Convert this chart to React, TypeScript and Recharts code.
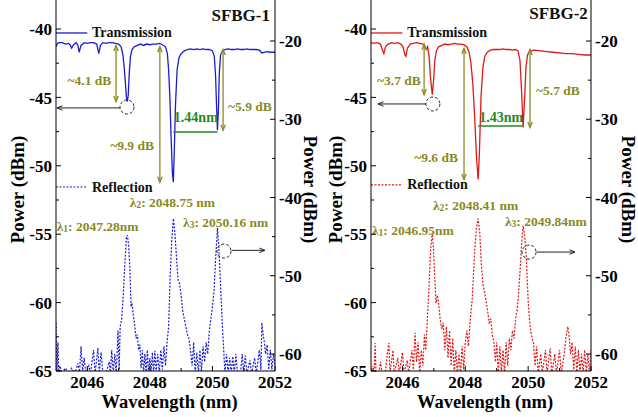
import React from "react";
import { LineChart, Line, XAxis, YAxis, ReferenceLine, ReferenceDot } from "recharts";

const FONT = "'Liberation Serif', 'Times New Roman', serif";
const OLIVE = "#8a8a24";
const GREEN = "#1f8a1f";
const INK = "#222";

const X_DOMAIN: [number, number] = [2045, 2052];
const LEFT_DOMAIN: [number, number] = [-65, -37.88];
const RIGHT_DOMAIN: [number, number] = [-62.17, -14.76];

const xTicks = [2046, 2047, 2048, 2049, 2050, 2051, 2052];
const leftTicks = [-65, -62.5, -60, -57.5, -55, -52.5, -50, -47.5, -45, -42.5, -40];
const rightTicks = [-60, -55, -50, -45, -40, -35, -30, -25, -20];

// SFBG-1 transmission, [wavelength nm, power dBm] (left axis)
const trans1: [number, number][] = [
  [2045.0, -41.3], [2045.05, -41.05], [2045.1, -41.0], [2045.2, -41.0], [2045.3, -41.1],
  [2045.4, -41.05], [2045.46, -41.2], [2045.5, -41.4], [2045.56, -41.15], [2045.65, -41.0],
  [2045.7, -41.2], [2045.74, -41.7], [2045.8, -41.2], [2045.9, -41.0], [2046.0, -41.05],
  [2046.1, -41.0], [2046.2, -41.0], [2046.3, -41.1], [2046.34, -41.5], [2046.37, -41.8],
  [2046.42, -41.2], [2046.5, -41.0], [2046.6, -41.05], [2046.7, -41.0], [2046.8, -41.0],
  [2046.9, -41.05], [2047.0, -41.1], [2047.08, -41.3], [2047.14, -41.9], [2047.18, -42.8],
  [2047.22, -44.0], [2047.25, -45.0], [2047.28, -45.3], [2047.31, -44.8], [2047.34, -43.3],
  [2047.38, -42.0], [2047.43, -41.5], [2047.5, -41.3], [2047.6, -41.2], [2047.7, -41.1],
  [2047.8, -41.2], [2047.9, -41.1], [2048.0, -41.15], [2048.1, -41.1], [2048.2, -41.1],
  [2048.3, -41.05], [2048.4, -41.15], [2048.5, -41.3], [2048.56, -41.8], [2048.6, -43.0],
  [2048.64, -45.0], [2048.68, -48.0], [2048.72, -50.5], [2048.75, -51.2], [2048.78, -49.0],
  [2048.82, -45.5], [2048.87, -43.0], [2048.93, -42.1], [2049.0, -41.8], [2049.1, -41.6],
  [2049.2, -41.5], [2049.3, -41.45], [2049.4, -41.5], [2049.5, -41.45], [2049.6, -41.5],
  [2049.7, -41.45], [2049.8, -41.5], [2049.9, -41.5], [2050.0, -41.6], [2050.06, -42.0],
  [2050.1, -43.4], [2050.13, -45.5], [2050.16, -47.4], [2050.19, -46.0], [2050.22, -43.2],
  [2050.26, -41.9], [2050.32, -41.6], [2050.4, -41.5], [2050.5, -41.45], [2050.6, -41.5],
  [2050.7, -41.5], [2050.8, -41.45], [2050.9, -41.5], [2051.0, -41.5], [2051.1, -41.45],
  [2051.2, -41.5], [2051.3, -41.5], [2051.4, -41.5], [2051.5, -41.55], [2051.58, -41.75],
  [2051.65, -41.7], [2051.75, -41.65], [2051.85, -41.7], [2052.0, -41.7],
];

// SFBG-1 reflection (right axis)
const refl1: [number, number][] = [
  [2045.0, -56.0], [2045.03, -62.5], [2045.06, -58.5], [2045.09, -62.5], [2045.12, -61.5],
  [2045.2, -62.5], [2045.3, -61.8], [2045.4, -62.5], [2045.5, -61.8], [2045.6, -62.5],
  [2045.7, -61.2], [2045.75, -62.5], [2045.8, -59.0], [2045.85, -62.3], [2045.9, -60.5],
  [2045.95, -62.5], [2046.05, -61.5], [2046.1, -62.5], [2046.2, -59.5], [2046.25, -62.5],
  [2046.34, -59.2], [2046.38, -62.4], [2046.44, -59.8], [2046.5, -62.5], [2046.6, -62.5],
  [2046.7, -61.0], [2046.74, -62.5], [2046.78, -59.5], [2046.83, -62.3], [2046.88, -60.0],
  [2046.92, -62.5], [2046.95, -60.5], [2046.98, -57.0], [2047.02, -62.0], [2047.05, -56.5],
  [2047.1, -55.5], [2047.15, -52.5], [2047.2, -48.5], [2047.25, -45.2], [2047.28, -44.8],
  [2047.32, -46.0], [2047.36, -49.0], [2047.4, -54.0], [2047.43, -53.5], [2047.47, -55.0],
  [2047.52, -56.5], [2047.56, -58.0], [2047.6, -57.5], [2047.64, -59.5], [2047.68, -58.8],
  [2047.72, -61.8], [2047.76, -59.5], [2047.8, -62.5], [2047.84, -60.0], [2047.88, -62.5],
  [2047.92, -59.5], [2047.96, -62.5], [2048.0, -60.5], [2048.04, -62.5], [2048.08, -59.8],
  [2048.12, -62.5], [2048.16, -59.6], [2048.2, -62.3], [2048.25, -60.0], [2048.3, -62.5],
  [2048.35, -59.5], [2048.4, -62.0], [2048.45, -59.0], [2048.5, -61.5], [2048.55, -58.5],
  [2048.6, -56.5], [2048.65, -50.0], [2048.7, -45.5], [2048.75, -42.7], [2048.8, -44.5],
  [2048.85, -47.5], [2048.9, -50.5], [2048.95, -51.0], [2049.0, -52.5], [2049.05, -54.5],
  [2049.1, -55.5], [2049.15, -56.5], [2049.2, -57.5], [2049.25, -58.0], [2049.3, -59.5],
  [2049.35, -61.5], [2049.4, -58.5], [2049.45, -62.5], [2049.5, -59.8], [2049.55, -62.5],
  [2049.6, -59.5], [2049.65, -62.3], [2049.7, -59.0], [2049.75, -61.0], [2049.8, -58.5],
  [2049.85, -60.0], [2049.9, -57.0], [2049.95, -55.5], [2050.0, -54.0], [2050.05, -52.0],
  [2050.1, -48.0], [2050.16, -43.9], [2050.2, -46.0], [2050.24, -49.5], [2050.28, -53.0],
  [2050.32, -56.5], [2050.36, -59.5], [2050.4, -62.5], [2050.45, -60.0], [2050.5, -62.5],
  [2050.55, -60.5], [2050.6, -62.5], [2050.65, -60.3], [2050.7, -62.5], [2050.75, -60.0],
  [2050.8, -62.5], [2050.9, -62.5], [2050.95, -60.0], [2051.0, -62.5], [2051.05, -60.2],
  [2051.1, -62.5], [2051.2, -60.8], [2051.25, -62.5], [2051.35, -60.5], [2051.4, -62.5],
  [2051.5, -59.5], [2051.55, -62.0], [2051.58, -56.0], [2051.62, -57.5], [2051.66, -58.5],
  [2051.7, -60.0], [2051.75, -58.8], [2051.8, -62.0], [2051.85, -59.5], [2051.9, -62.0],
  [2051.95, -60.0], [2052.0, -61.5],
];

const peaks1 = [2047.28, 2048.75, 2050.16];
const peakUnits1 = ["nm", " nm", " nm"];
const dips1 = [-45.3, -51.2, -47.4];
const depths1 = [4.1, 9.9, 5.9];
const spacing1 = 1.44;

// SFBG-2 transmission (left axis)
const trans2: [number, number][] = [
  [2045.0, -41.0], [2045.1, -41.05], [2045.2, -41.0], [2045.3, -41.1], [2045.36, -41.5],
  [2045.41, -41.8], [2045.46, -41.3], [2045.55, -41.1], [2045.65, -41.0], [2045.75, -41.05],
  [2045.85, -41.0], [2045.95, -41.1], [2046.02, -41.3], [2046.08, -41.9], [2046.11, -42.0],
  [2046.16, -41.4], [2046.25, -41.1], [2046.35, -41.05], [2046.45, -41.0], [2046.55, -41.05],
  [2046.65, -41.1], [2046.72, -41.3], [2046.76, -41.5], [2046.8, -41.3], [2046.85, -42.0],
  [2046.89, -43.5], [2046.95, -44.8], [2046.99, -43.8], [2047.03, -42.3], [2047.08, -41.6],
  [2047.15, -41.3], [2047.25, -41.2], [2047.35, -41.1], [2047.45, -41.15], [2047.55, -41.1],
  [2047.65, -41.05], [2047.75, -41.1], [2047.85, -41.1], [2047.95, -41.15], [2048.05, -41.3],
  [2048.12, -41.7], [2048.18, -42.5], [2048.24, -44.0], [2048.3, -46.5], [2048.36, -49.5],
  [2048.41, -51.0], [2048.45, -49.0], [2048.5, -45.0], [2048.56, -42.8], [2048.62, -42.0],
  [2048.7, -41.7], [2048.8, -41.55], [2048.9, -41.5], [2049.0, -41.5], [2049.1, -41.5],
  [2049.2, -41.45], [2049.3, -41.5], [2049.4, -41.5], [2049.5, -41.55], [2049.6, -41.5],
  [2049.68, -41.6], [2049.74, -42.3], [2049.79, -44.5], [2049.84, -47.2], [2049.89, -45.0],
  [2049.93, -42.8], [2049.98, -41.9], [2050.05, -41.6], [2050.2, -41.55], [2050.4, -41.6],
  [2050.6, -41.65], [2050.8, -41.7], [2051.0, -41.75], [2051.2, -41.8], [2051.4, -41.8],
  [2051.6, -41.85], [2051.8, -41.9], [2052.0, -41.9],
];

// SFBG-2 reflection (right axis)
const refl2: [number, number][] = [
  [2045.0, -62.5], [2045.05, -61.5], [2045.1, -62.5], [2045.13, -58.6], [2045.16, -62.5],
  [2045.25, -62.5], [2045.3, -61.0], [2045.35, -62.5], [2045.45, -62.5], [2045.52, -60.0],
  [2045.57, -58.6], [2045.6, -62.5], [2045.7, -59.5], [2045.74, -62.5], [2045.85, -60.5],
  [2045.9, -62.5], [2046.0, -59.8], [2046.05, -62.5], [2046.15, -60.8], [2046.2, -62.5],
  [2046.3, -59.5], [2046.35, -62.0], [2046.4, -57.3], [2046.45, -61.0], [2046.5, -58.5],
  [2046.55, -62.5], [2046.6, -59.5], [2046.65, -61.5], [2046.7, -57.5], [2046.74, -59.5],
  [2046.8, -55.0], [2046.85, -51.0], [2046.9, -46.5], [2046.95, -44.5], [2046.98, -46.0],
  [2047.02, -49.5], [2047.07, -53.5], [2047.11, -52.5], [2047.15, -53.5], [2047.2, -55.5],
  [2047.25, -56.8], [2047.3, -56.0], [2047.35, -59.5], [2047.4, -56.5], [2047.45, -60.5],
  [2047.5, -57.0], [2047.55, -61.5], [2047.6, -58.0], [2047.65, -62.5], [2047.7, -59.5],
  [2047.75, -62.5], [2047.8, -60.0], [2047.85, -62.5], [2047.9, -59.0], [2047.95, -62.0],
  [2048.0, -58.5], [2048.05, -57.0], [2048.1, -59.0], [2048.15, -56.0], [2048.22, -53.0],
  [2048.3, -46.7], [2048.36, -43.8], [2048.41, -42.7], [2048.46, -44.5], [2048.51, -48.5],
  [2048.56, -51.0], [2048.61, -52.0], [2048.66, -53.2], [2048.71, -54.5], [2048.76, -56.0],
  [2048.81, -55.5], [2048.86, -57.5], [2048.91, -58.5], [2048.96, -61.0], [2049.0, -58.5],
  [2049.05, -62.5], [2049.1, -59.0], [2049.15, -62.5], [2049.2, -59.5], [2049.25, -62.5],
  [2049.3, -58.5], [2049.35, -61.5], [2049.4, -58.0], [2049.45, -59.5], [2049.5, -57.0],
  [2049.55, -58.0], [2049.6, -55.5], [2049.65, -54.4], [2049.7, -52.0], [2049.75, -48.9],
  [2049.8, -45.5], [2049.84, -43.6], [2049.89, -45.0], [2049.94, -47.6], [2049.97, -50.5],
  [2050.0, -53.1], [2050.04, -55.5], [2050.08, -57.0], [2050.13, -58.0], [2050.17, -58.6],
  [2050.22, -61.5], [2050.27, -59.0], [2050.32, -62.5], [2050.4, -60.0], [2050.45, -62.5],
  [2050.55, -59.5], [2050.6, -62.5], [2050.7, -59.3], [2050.75, -62.5], [2050.85, -60.0],
  [2050.9, -62.5], [2051.0, -59.5], [2051.05, -62.5], [2051.15, -60.0], [2051.2, -58.0],
  [2051.26, -56.5], [2051.3, -57.5], [2051.35, -60.0], [2051.4, -58.5], [2051.45, -62.0],
  [2051.5, -59.0], [2051.55, -62.5], [2051.6, -59.5], [2051.65, -62.5], [2051.7, -60.0],
  [2051.75, -62.5], [2051.8, -59.5], [2051.85, -62.5], [2051.9, -60.0], [2051.95, -62.5],
  [2052.0, -59.5],
];

const peaks2 = [2046.95, 2048.41, 2049.84];
const peakUnits2 = ["nm", " nm", "nm"];
const dips2 = [-44.8, -51.0, -47.2];
const depths2 = [3.7, 9.6, 5.7];
const spacing2 = 1.43;

type Pt = [number, number];

interface PanelCfg {
  left: number;
  width: number;
  leftW: number;
  rightW: number;
  color: string;
  title: string;
  trans: Pt[];
  refl: Pt[];
  peaks: number[];
  units: string[];
  dips: number[];
  depths: number[];
  spacing: number;
  // annotation placement, in axis units
  titleAt: Pt;
  legendY: [number, number];
  depthX: number[];
  depthText: Pt[];
  spacingY: number;
  spacingText: Pt;
  lambdaText: Pt[];
  transCircle: Pt;
  transArrow: [number, number, number];
  reflCircle: Pt;
  reflArrow: [number, number, number];
  leftTitleDx: number;
  rightTitleDx: number;
}

const panels: PanelCfg[] = [
  {
    left: 0, width: 320, leftW: 56, rightW: 45, color: "#1c1cd0", title: "SFBG-1",
    trans: trans1, refl: refl1, peaks: peaks1, units: peakUnits1, dips: dips1, depths: depths1, spacing: spacing1,
    titleAt: [2051.84, -38.98], legendY: [-40.29, -51.55],
    depthX: [2046.92, 2048.32, 2050.34],
    depthText: [[2046.07, -43.8], [2047.43, -48.55], [2051.2, -45.7]],
    spacingY: -47.53, spacingText: [2049.47, -46.45],
    lambdaText: [[2045.02, -54.4], [2047.36, -52.62], [2049.06, -54.1]],
    transCircle: [2047.27, -45.7], transArrow: [2047.05, 2045.03, -45.77],
    reflCircle: [2050.37, -46.84], reflArrow: [2050.62, 2051.68, -46.75],
    leftTitleDx: 17, rightTitleDx: 35,
  },
  {
    left: 320, width: 318, leftW: 51, rightW: 47, color: "#e01818", title: "SFBG-2",
    trans: trans2, refl: refl2, peaks: peaks2, units: peakUnits2, dips: dips2, depths: depths2, spacing: spacing2,
    titleAt: [2051.9, -38.9], legendY: [-40.29, -51.4],
    depthX: [2046.69, 2047.96, 2050.06],
    depthText: [[2045.89, -43.73], [2047.07, -49.36], [2050.95, -44.53]],
    spacingY: -47.09, spacingText: [2049.14, -46.45],
    lambdaText: [[2045.03, -54.7], [2046.97, -52.85], [2049.26, -54.02]],
    transCircle: [2046.97, -45.48], transArrow: [2046.76, 2045.22, -45.48],
    reflCircle: [2050.03, -46.97], reflArrow: [2050.28, 2051.49, -46.97],
    leftTitleDx: 15, rightTitleDx: 37,
  },
];

const textStyle = { fontFamily: FONT, fontWeight: 700 } as const;

// inward tick marks, labels only on the major ones
const LeftTick = ({ x, y, payload }: any) => {
  const major = payload.value % 5 === 0;
  return (
    <g>
      <line x1={x} x2={x + (major ? 5 : 3)} y1={y} y2={y} stroke="#000" />
      {major && (
        <text x={x - 4} y={y} dy="0.36em" textAnchor="end" fontSize={17} fill="#000" style={textStyle}>
          {payload.value}
        </text>
      )}
    </g>
  );
};

const RightTick = ({ x, y, payload }: any) => {
  const major = payload.value % 10 === 0;
  return (
    <g>
      <line x1={x - (major ? 5 : 3)} x2={x} y1={y} y2={y} stroke="#000" />
      {major && (
        <text x={x + 4} y={y} dy="0.36em" textAnchor="start" fontSize={17} fill="#000" style={textStyle}>
          {payload.value}
        </text>
      )}
    </g>
  );
};

const BottomTick = ({ x, y, payload }: any) => {
  const major = payload.value % 2 === 0;
  return (
    <g>
      <line x1={x} x2={x} y1={y - (major ? 5 : 3)} y2={y} stroke="#000" />
      {major && (
        <text x={x} y={y + 17} textAnchor="middle" fontSize={17} fill="#000" style={textStyle}>
          {payload.value}
        </text>
      )}
    </g>
  );
};

const TopTick = ({ x, y, payload }: any) => {
  const major = payload.value % 2 === 0;
  return <line x1={x} x2={x} y1={y} y2={y + (major ? 5 : 3)} stroke="#000" />;
};

const vTitle = (dx: number, angle: number) => (props: any) => {
  const vb = props.viewBox || {};
  const cx = vb.x + dx;
  const cy = vb.y + vb.height / 2 + 4;
  return (
    <text x={cx} y={cy} textAnchor="middle" dominantBaseline="central" fontSize={19} fill="#000"
      transform={`rotate(${angle} ${cx} ${cy})`} style={textStyle}>
      Power (dBm)
    </text>
  );
};

const xTitle = (props: any) => {
  const vb = props.viewBox || {};
  const cx = vb.x + vb.width / 2 + 4;
  return (
    <text x={cx} y={vb.y + 37} textAnchor="middle" fontSize={18.5} fill="#000" style={textStyle}>
      Wavelength (nm)
    </text>
  );
};

// line with open arrow heads
const arrow = (color: string, start: boolean, end: boolean, sw = 1.2) => (p: any) => {
  const { x1, y1, x2, y2 } = p;
  const a = Math.atan2(y2 - y1, x2 - x1);
  const head = (x: number, y: number, dir: number) => {
    const L = 6;
    const s = 0.38;
    return `M${x - L * Math.cos(dir - s)},${y - L * Math.sin(dir - s)} L${x},${y} L${x - L * Math.cos(dir + s)},${y - L * Math.sin(dir + s)}`;
  };
  return (
    <g>
      <line x1={x1} y1={y1} x2={x2} y2={y2} stroke={color} strokeWidth={sw} />
      {end && <path d={head(x2, y2, a)} fill="none" stroke={color} strokeWidth={sw} />}
      {start && <path d={head(x1, y1, a + Math.PI)} fill="none" stroke={color} strokeWidth={sw} />}
    </g>
  );
};

const label = (content: React.ReactNode, color: string, size: number, anchor = "middle") => (p: any) => (
  <text x={p.cx} y={p.cy} textAnchor={anchor} dominantBaseline="central" fontSize={size} fill={color} style={textStyle}>
    {content}
  </text>
);

const ring = (p: any) => (
  <circle cx={p.cx} cy={p.cy} r={7} fill="none" stroke={INK} strokeWidth={1} strokeDasharray="3 2" />
);

function Panel({ cfg }: { cfg: PanelCfg }) {
  const tData = cfg.trans.map(([w, p]) => ({ w, p }));
  const rData = cfg.refl.map(([w, p]) => ({ w, p }));
  return (
    <div style={{ position: "absolute", left: cfg.left, top: 0 }}>
      <LineChart width={cfg.width} height={417} margin={{ top: 0, right: 0, bottom: 0, left: 0 }}>
        <XAxis dataKey="w" type="number" domain={X_DOMAIN} ticks={xTicks} interval={0} allowDataOverflow
          height={46} axisLine={{ stroke: "#000" }} tickLine={false} tickSize={0} tickMargin={0}
          tick={<BottomTick />} label={{ content: xTitle }} />
        <XAxis xAxisId="top" orientation="top" dataKey="w" type="number" domain={X_DOMAIN} ticks={xTicks}
          interval={0} allowDataOverflow height={0} axisLine={false} tickLine={false} tickSize={0}
          tickMargin={0} tick={<TopTick />} />
        <YAxis yAxisId="left" type="number" domain={LEFT_DOMAIN} ticks={leftTicks} interval={0}
          allowDataOverflow width={cfg.leftW} axisLine={{ stroke: "#000" }} tickLine={false} tickSize={0}
          tickMargin={0} tick={<LeftTick />} label={{ content: vTitle(cfg.leftTitleDx, -90) }} />
        <YAxis yAxisId="right" orientation="right" type="number" domain={RIGHT_DOMAIN} ticks={rightTicks}
          interval={0} allowDataOverflow width={cfg.rightW} axisLine={{ stroke: "#000" }} tickLine={false}
          tickSize={0} tickMargin={0} tick={<RightTick />} label={{ content: vTitle(cfg.rightTitleDx, 90) }} />

        <Line yAxisId="right" data={rData} dataKey="p" type="linear" stroke={cfg.color} strokeWidth={1.2}
          strokeDasharray="2 1.5" dot={false} activeDot={false} isAnimationActive={false} />
        <Line yAxisId="left" data={tData} dataKey="p" type="linear" stroke={cfg.color} strokeWidth={1.3}
          dot={false} activeDot={false} isAnimationActive={false} />

        {/* legend */}
        <ReferenceLine yAxisId="left" segment={[{ x: 2045, y: cfg.legendY[0] }, { x: 2046, y: cfg.legendY[0] }]}
          stroke={cfg.color} strokeWidth={1.3} />
        <ReferenceDot yAxisId="left" x={2046.15} y={cfg.legendY[0]} r={0} shape={label("Transmission", "#111", 14, "start")} />
        <ReferenceLine yAxisId="left" segment={[{ x: 2045, y: cfg.legendY[1] }, { x: 2046, y: cfg.legendY[1] }]}
          stroke={cfg.color} strokeWidth={1.2} strokeDasharray="2 1.5" />
        <ReferenceDot yAxisId="left" x={2046.15} y={cfg.legendY[1]} r={0} shape={label("Reflection", "#111", 14, "start")} />

        <ReferenceDot yAxisId="left" x={cfg.titleAt[0]} y={cfg.titleAt[1]} r={0} shape={label(cfg.title, "#111", 17, "end")} />

        {/* dip depths */}
        {cfg.depths.map((d, i) => (
          <ReferenceLine key={`d${i}`} yAxisId="left"
            segment={[{ x: cfg.depthX[i], y: cfg.dips[i] + d }, { x: cfg.depthX[i], y: cfg.dips[i] }]}
            shape={arrow(OLIVE, true, true, 1.3)} />
        ))}
        {cfg.depths.map((d, i) => (
          <ReferenceDot key={`dt${i}`} yAxisId="left" x={cfg.depthText[i][0]} y={cfg.depthText[i][1]} r={0}
            shape={label(`~${d.toFixed(1)} dB`, OLIVE, 13.5)} />
        ))}

        {/* peak spacing */}
        <ReferenceLine yAxisId="left" segment={[{ x: cfg.peaks[1], y: cfg.spacingY }, { x: cfg.peaks[2], y: cfg.spacingY }]}
          stroke={GREEN} strokeWidth={1.5} />
        <ReferenceDot yAxisId="left" x={cfg.spacingText[0]} y={cfg.spacingText[1]} r={0}
          shape={label(`${cfg.spacing.toFixed(2)}nm`, GREEN, 14)} />

        {/* reflection peak wavelengths */}
        {cfg.peaks.map((pk, i) => (
          <ReferenceDot key={`l${i}`} yAxisId="left" x={cfg.lambdaText[i][0]} y={cfg.lambdaText[i][1]} r={0}
            shape={label(
              <>
                <tspan>λ</tspan>
                <tspan dy={3} fontSize={9.5}>{i + 1}</tspan>
                <tspan dy={-3}>{`: ${pk.toFixed(2)}${cfg.units[i]}`}</tspan>
              </>,
              OLIVE, 13.5, "start",
            )} />
        ))}

        {/* axis pointers */}
        <ReferenceDot yAxisId="left" x={cfg.transCircle[0]} y={cfg.transCircle[1]} r={7} shape={ring} />
        <ReferenceLine yAxisId="left"
          segment={[{ x: cfg.transArrow[0], y: cfg.transArrow[2] }, { x: cfg.transArrow[1], y: cfg.transArrow[2] }]}
          shape={arrow(INK, false, true, 1)} />
        <ReferenceDot yAxisId="right" x={cfg.reflCircle[0]} y={cfg.reflCircle[1]} r={7} shape={ring} />
        <ReferenceLine yAxisId="right"
          segment={[{ x: cfg.reflArrow[0], y: cfg.reflArrow[2] }, { x: cfg.reflArrow[1], y: cfg.reflArrow[2] }]}
          shape={arrow(INK, false, true, 1)} />
      </LineChart>
    </div>
  );
}

export default function App() {
  return (
    <div style={{ position: "absolute", left: 0, top: 0, width: 638, height: 417, background: "#fff", overflow: "hidden" }}>
      {panels.map((p) => (
        <Panel key={p.title} cfg={p} />
      ))}
    </div>
  );
}
